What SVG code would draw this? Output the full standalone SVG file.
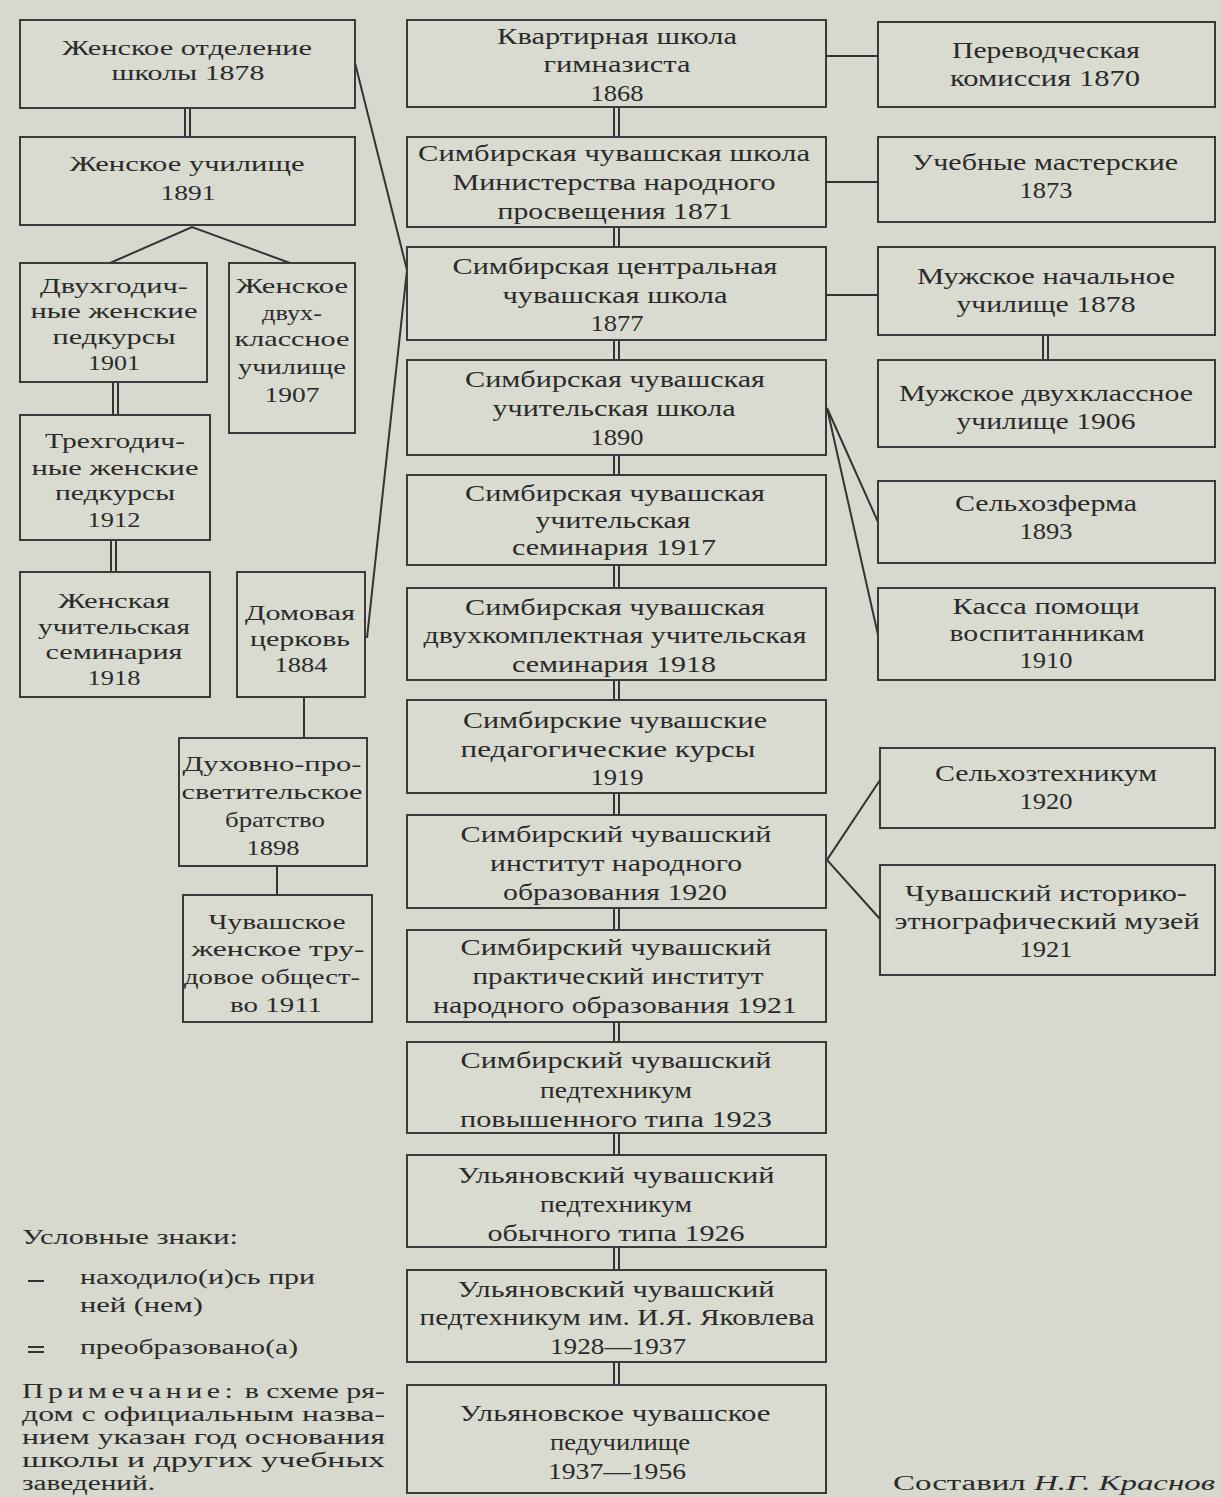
<svg xmlns="http://www.w3.org/2000/svg" width="1222" height="1497" viewBox="0 0 1222 1497">
<style>
.bg{fill:#d7d9cf}
.box{fill:#d9dbd1;stroke:#3a3a3a;stroke-width:2}
.ln{stroke:#333;stroke-width:2;fill:none}
.t{font-family:"Liberation Serif","Times New Roman",serif;font-size:24px;fill:#2a2a2a;text-anchor:middle}
.s{font-family:"Liberation Serif","Times New Roman",serif;font-size:22px;fill:#2a2a2a;text-anchor:middle}
.l{font-family:"Liberation Serif","Times New Roman",serif;font-size:20px;fill:#2a2a2a}
</style>
<rect class="bg" x="0" y="0" width="1222" height="1497"/>
<g id="connectors">
<line class="ln" x1="185" y1="108" x2="185" y2="137"/><line class="ln" x1="190" y1="108" x2="190" y2="137"/>
<polyline class="ln" points="110,263 192,227 290,263"/>
<line class="ln" x1="113" y1="382" x2="113" y2="415"/><line class="ln" x1="118" y1="382" x2="118" y2="415"/>
<line class="ln" x1="111" y1="540" x2="111" y2="572"/><line class="ln" x1="116" y1="540" x2="116" y2="572"/>
<line class="ln" x1="304" y1="697" x2="304" y2="738"/>
<line class="ln" x1="277" y1="866" x2="277" y2="895"/>
<line class="ln" x1="355" y1="63" x2="407" y2="270"/>
<line class="ln" x1="407" y1="270" x2="367" y2="638"/>
<line class="ln" x1="614" y1="107" x2="614" y2="137"/><line class="ln" x1="619" y1="107" x2="619" y2="137"/>
<line class="ln" x1="614" y1="227" x2="614" y2="247"/><line class="ln" x1="619" y1="227" x2="619" y2="247"/>
<line class="ln" x1="614" y1="340" x2="614" y2="360"/><line class="ln" x1="619" y1="340" x2="619" y2="360"/>
<line class="ln" x1="614" y1="455" x2="614" y2="475"/><line class="ln" x1="619" y1="455" x2="619" y2="475"/>
<line class="ln" x1="614" y1="565" x2="614" y2="588"/><line class="ln" x1="619" y1="565" x2="619" y2="588"/>
<line class="ln" x1="614" y1="680" x2="614" y2="700"/><line class="ln" x1="619" y1="680" x2="619" y2="700"/>
<line class="ln" x1="614" y1="793" x2="614" y2="815"/><line class="ln" x1="619" y1="793" x2="619" y2="815"/>
<line class="ln" x1="614" y1="908" x2="614" y2="930"/><line class="ln" x1="619" y1="908" x2="619" y2="930"/>
<line class="ln" x1="614" y1="1022" x2="614" y2="1042"/><line class="ln" x1="619" y1="1022" x2="619" y2="1042"/>
<line class="ln" x1="614" y1="1133" x2="614" y2="1155"/><line class="ln" x1="619" y1="1133" x2="619" y2="1155"/>
<line class="ln" x1="614" y1="1247" x2="614" y2="1270"/><line class="ln" x1="619" y1="1247" x2="619" y2="1270"/>
<line class="ln" x1="614" y1="1362" x2="614" y2="1385"/><line class="ln" x1="619" y1="1362" x2="619" y2="1385"/>
<line class="ln" x1="826" y1="56" x2="878" y2="56"/>
<line class="ln" x1="826" y1="182" x2="878" y2="182"/>
<line class="ln" x1="826" y1="295" x2="878" y2="295"/>
<line class="ln" x1="1043" y1="335" x2="1043" y2="360"/><line class="ln" x1="1048" y1="335" x2="1048" y2="360"/>
<polyline class="ln" points="878,522 827,408 878,635"/>
<polyline class="ln" points="880,780 827,860 880,919"/>
</g>
<g id="n-zhensk-otd"><rect class="box" x="20" y="20" width="335" height="88"/>
<text class="s" x="187" y="55" textLength="250" lengthAdjust="spacingAndGlyphs">Женское отделение</text>
<text class="s" x="188" y="80" textLength="153" lengthAdjust="spacingAndGlyphs">школы 1878</text></g>
<g id="n-zhensk-uch"><rect class="box" x="20" y="137" width="335" height="88"/>
<text class="s" x="187" y="171" textLength="235" lengthAdjust="spacingAndGlyphs">Женское училище</text>
<text class="s" x="188" y="200" textLength="55" lengthAdjust="spacingAndGlyphs">1891</text></g>
<g id="n-dvuhgod"><rect class="box" x="20" y="263" width="187" height="119"/>
<text class="s" x="114" y="293" textLength="148" lengthAdjust="spacingAndGlyphs">Двухгодич-</text>
<text class="s" x="114" y="318" textLength="167" lengthAdjust="spacingAndGlyphs">ные женские</text>
<text class="s" x="114" y="344" textLength="123" lengthAdjust="spacingAndGlyphs">педкурсы</text>
<text class="s" x="114" y="370" textLength="52" lengthAdjust="spacingAndGlyphs">1901</text></g>
<g id="n-zhensk-dvuh"><rect class="box" x="229" y="263" width="126" height="170"/>
<text class="s" x="292" y="293" textLength="112" lengthAdjust="spacingAndGlyphs">Женское</text>
<text class="s" x="292" y="320" textLength="60" lengthAdjust="spacingAndGlyphs">двух-</text>
<text class="s" x="292" y="346" textLength="115" lengthAdjust="spacingAndGlyphs">классное</text>
<text class="s" x="292" y="374" textLength="108" lengthAdjust="spacingAndGlyphs">училище</text>
<text class="s" x="292" y="402" textLength="55" lengthAdjust="spacingAndGlyphs">1907</text></g>
<g id="n-trehgod"><rect class="box" x="20" y="415" width="190" height="125"/>
<text class="s" x="115" y="448" textLength="140" lengthAdjust="spacingAndGlyphs">Трехгодич-</text>
<text class="s" x="115" y="475" textLength="167" lengthAdjust="spacingAndGlyphs">ные женские</text>
<text class="s" x="115" y="500" textLength="120" lengthAdjust="spacingAndGlyphs">педкурсы</text>
<text class="s" x="114" y="527" textLength="53" lengthAdjust="spacingAndGlyphs">1912</text></g>
<g id="n-zhensk-sem"><rect class="box" x="20" y="572" width="190" height="125"/>
<text class="s" x="114" y="608" textLength="112" lengthAdjust="spacingAndGlyphs">Женская</text>
<text class="s" x="114" y="634" textLength="152" lengthAdjust="spacingAndGlyphs">учительская</text>
<text class="s" x="114" y="659" textLength="137" lengthAdjust="spacingAndGlyphs">семинария</text>
<text class="s" x="114" y="685" textLength="53" lengthAdjust="spacingAndGlyphs">1918</text></g>
<g id="n-domovaya"><rect class="box" x="237" y="572" width="128" height="125"/>
<text class="s" x="300" y="620" textLength="110" lengthAdjust="spacingAndGlyphs">Домовая</text>
<text class="s" x="300" y="646" textLength="100" lengthAdjust="spacingAndGlyphs">церковь</text>
<text class="s" x="301" y="672" textLength="53" lengthAdjust="spacingAndGlyphs">1884</text></g>
<g id="n-duhovno"><rect class="box" x="179" y="738" width="188" height="128"/>
<text class="s" x="272" y="771" textLength="179" lengthAdjust="spacingAndGlyphs">Духовно-про-</text>
<text class="s" x="272" y="799" textLength="181" lengthAdjust="spacingAndGlyphs">светительское</text>
<text class="s" x="275" y="827" textLength="100" lengthAdjust="spacingAndGlyphs">братство</text>
<text class="s" x="273" y="855" textLength="53" lengthAdjust="spacingAndGlyphs">1898</text></g>
<g id="n-chuv-trud"><rect class="box" x="183" y="895" width="189" height="127"/>
<text class="s" x="277" y="929" textLength="137" lengthAdjust="spacingAndGlyphs">Чувашское</text>
<text class="s" x="278" y="956" textLength="173" lengthAdjust="spacingAndGlyphs">женское тру-</text>
<text class="s" x="272" y="984" textLength="176" lengthAdjust="spacingAndGlyphs">довое общест-</text>
<text class="s" x="276" y="1012" textLength="92" lengthAdjust="spacingAndGlyphs">во 1911</text></g>
<g id="n-1868"><rect class="box" x="407" y="20" width="419" height="87"/>
<text class="t" x="617" y="44" textLength="240" lengthAdjust="spacingAndGlyphs">Квартирная школа</text>
<text class="t" x="617" y="72" textLength="147" lengthAdjust="spacingAndGlyphs">гимназиста</text>
<text class="t" x="617" y="101" textLength="53" lengthAdjust="spacingAndGlyphs">1868</text></g>
<g id="n-1871"><rect class="box" x="407" y="137" width="419" height="90"/>
<text class="t" x="614" y="161" textLength="392" lengthAdjust="spacingAndGlyphs">Симбирская чувашская школа</text>
<text class="t" x="614" y="190" textLength="323" lengthAdjust="spacingAndGlyphs">Министерства народного</text>
<text class="t" x="615" y="219" textLength="235" lengthAdjust="spacingAndGlyphs">просвещения 1871</text></g>
<g id="n-1877"><rect class="box" x="407" y="247" width="419" height="93"/>
<text class="t" x="615" y="274" textLength="325" lengthAdjust="spacingAndGlyphs">Симбирская центральная</text>
<text class="t" x="615" y="303" textLength="225" lengthAdjust="spacingAndGlyphs">чувашская школа</text>
<text class="t" x="617" y="331" textLength="53" lengthAdjust="spacingAndGlyphs">1877</text></g>
<g id="n-1890"><rect class="box" x="407" y="360" width="419" height="95"/>
<text class="t" x="615" y="387" textLength="300" lengthAdjust="spacingAndGlyphs">Симбирская чувашская</text>
<text class="t" x="614" y="416" textLength="243" lengthAdjust="spacingAndGlyphs">учительская школа</text>
<text class="t" x="617" y="445" textLength="53" lengthAdjust="spacingAndGlyphs">1890</text></g>
<g id="n-1917"><rect class="box" x="407" y="475" width="419" height="90"/>
<text class="t" x="615" y="501" textLength="300" lengthAdjust="spacingAndGlyphs">Симбирская чувашская</text>
<text class="t" x="613" y="528" textLength="155" lengthAdjust="spacingAndGlyphs">учительская</text>
<text class="t" x="614" y="555" textLength="204" lengthAdjust="spacingAndGlyphs">семинария 1917</text></g>
<g id="n-1918"><rect class="box" x="407" y="588" width="419" height="92"/>
<text class="t" x="615" y="615" textLength="300" lengthAdjust="spacingAndGlyphs">Симбирская чувашская</text>
<text class="t" x="615" y="643" textLength="383" lengthAdjust="spacingAndGlyphs">двухкомплектная учительская</text>
<text class="t" x="614" y="672" textLength="204" lengthAdjust="spacingAndGlyphs">семинария 1918</text></g>
<g id="n-1919"><rect class="box" x="407" y="700" width="419" height="93"/>
<text class="t" x="615" y="728" textLength="304" lengthAdjust="spacingAndGlyphs">Симбирские чувашские</text>
<text class="t" x="608" y="757" textLength="295" lengthAdjust="spacingAndGlyphs">педагогические курсы</text>
<text class="t" x="617" y="785" textLength="53" lengthAdjust="spacingAndGlyphs">1919</text></g>
<g id="n-1920"><rect class="box" x="407" y="815" width="419" height="93"/>
<text class="t" x="616" y="842" textLength="311" lengthAdjust="spacingAndGlyphs">Симбирский чувашский</text>
<text class="t" x="616" y="871" textLength="252" lengthAdjust="spacingAndGlyphs">институт народного</text>
<text class="t" x="615" y="900" textLength="224" lengthAdjust="spacingAndGlyphs">образования 1920</text></g>
<g id="n-1921"><rect class="box" x="407" y="930" width="419" height="92"/>
<text class="t" x="616" y="955" textLength="311" lengthAdjust="spacingAndGlyphs">Симбирский чувашский</text>
<text class="t" x="618" y="984" textLength="291" lengthAdjust="spacingAndGlyphs">практический институт</text>
<text class="t" x="615" y="1013" textLength="364" lengthAdjust="spacingAndGlyphs">народного образования 1921</text></g>
<g id="n-1923"><rect class="box" x="407" y="1042" width="419" height="91"/>
<text class="t" x="616" y="1068" textLength="311" lengthAdjust="spacingAndGlyphs">Симбирский чувашский</text>
<text class="t" x="616" y="1098" textLength="152" lengthAdjust="spacingAndGlyphs">педтехникум</text>
<text class="t" x="616" y="1127" textLength="312" lengthAdjust="spacingAndGlyphs">повышенного типа 1923</text></g>
<g id="n-1926"><rect class="box" x="407" y="1155" width="419" height="92"/>
<text class="t" x="616" y="1183" textLength="317" lengthAdjust="spacingAndGlyphs">Ульяновский чувашский</text>
<text class="t" x="616" y="1212" textLength="152" lengthAdjust="spacingAndGlyphs">педтехникум</text>
<text class="t" x="616" y="1241" textLength="257" lengthAdjust="spacingAndGlyphs">обычного типа 1926</text></g>
<g id="n-1928"><rect class="box" x="407" y="1270" width="419" height="92"/>
<text class="t" x="616" y="1297" textLength="317" lengthAdjust="spacingAndGlyphs">Ульяновский чувашский</text>
<text class="t" x="617" y="1325" textLength="395" lengthAdjust="spacingAndGlyphs">педтехникум им. И.Я. Яковлева</text>
<text class="t" x="618" y="1354" textLength="136" lengthAdjust="spacingAndGlyphs">1928—1937</text></g>
<g id="n-1937"><rect class="box" x="407" y="1385" width="419" height="108"/>
<text class="t" x="615" y="1421" textLength="311" lengthAdjust="spacingAndGlyphs">Ульяновское чувашское</text>
<text class="t" x="620" y="1450" textLength="140" lengthAdjust="spacingAndGlyphs">педучилище</text>
<text class="t" x="617" y="1479" textLength="138" lengthAdjust="spacingAndGlyphs">1937—1956</text></g>
<g id="n-perevod"><rect class="box" x="878" y="22" width="337" height="85"/>
<text class="t" x="1046" y="58" textLength="188" lengthAdjust="spacingAndGlyphs">Переводческая</text>
<text class="t" x="1045" y="86" textLength="190" lengthAdjust="spacingAndGlyphs">комиссия 1870</text></g>
<g id="n-masterskie"><rect class="box" x="878" y="137" width="337" height="85"/>
<text class="t" x="1045" y="170" textLength="266" lengthAdjust="spacingAndGlyphs">Учебные мастерские</text>
<text class="t" x="1046" y="198" textLength="53" lengthAdjust="spacingAndGlyphs">1873</text></g>
<g id="n-muzh-nach"><rect class="box" x="878" y="247" width="337" height="88"/>
<text class="t" x="1046" y="284" textLength="258" lengthAdjust="spacingAndGlyphs">Мужское начальное</text>
<text class="t" x="1046" y="312" textLength="179" lengthAdjust="spacingAndGlyphs">училище 1878</text></g>
<g id="n-muzh-dvuh"><rect class="box" x="878" y="360" width="337" height="87"/>
<text class="t" x="1046" y="401" textLength="294" lengthAdjust="spacingAndGlyphs">Мужское двухклассное</text>
<text class="t" x="1046" y="429" textLength="179" lengthAdjust="spacingAndGlyphs">училище 1906</text></g>
<g id="n-selhozferma"><rect class="box" x="878" y="481" width="337" height="82"/>
<text class="t" x="1046" y="511" textLength="182" lengthAdjust="spacingAndGlyphs">Сельхозферма</text>
<text class="t" x="1046" y="539" textLength="53" lengthAdjust="spacingAndGlyphs">1893</text></g>
<g id="n-kassa"><rect class="box" x="878" y="588" width="337" height="92"/>
<text class="t" x="1046" y="614" textLength="187" lengthAdjust="spacingAndGlyphs">Касса помощи</text>
<text class="t" x="1047" y="641" textLength="195" lengthAdjust="spacingAndGlyphs">воспитанникам</text>
<text class="t" x="1046" y="668" textLength="53" lengthAdjust="spacingAndGlyphs">1910</text></g>
<g id="n-selhoztehn"><rect class="box" x="880" y="748" width="335" height="80"/>
<text class="t" x="1046" y="781" textLength="222" lengthAdjust="spacingAndGlyphs">Сельхозтехникум</text>
<text class="t" x="1046" y="809" textLength="53" lengthAdjust="spacingAndGlyphs">1920</text></g>
<g id="n-muzei"><rect class="box" x="880" y="865" width="335" height="110"/>
<text class="t" x="1046" y="901" textLength="282" lengthAdjust="spacingAndGlyphs">Чувашский историко-</text>
<text class="t" x="1047" y="929" textLength="305" lengthAdjust="spacingAndGlyphs">этнографический музей</text>
<text class="t" x="1046" y="957" textLength="53" lengthAdjust="spacingAndGlyphs">1921</text></g>
<g id="legend">
<text class="l" x="22" y="1244" textLength="216" lengthAdjust="spacingAndGlyphs">Условные знаки:</text>
<line class="ln" x1="28" y1="1281" x2="44" y2="1281"/>
<text class="l" x="80" y="1284" textLength="235" lengthAdjust="spacingAndGlyphs">находило(и)сь при</text>
<text class="l" x="80" y="1312" textLength="123" lengthAdjust="spacingAndGlyphs">ней (нем)</text>
<line class="ln" x1="28" y1="1347" x2="44" y2="1347"/><line class="ln" x1="28" y1="1352" x2="44" y2="1352"/>
<text class="l" x="80" y="1354" textLength="218" lengthAdjust="spacingAndGlyphs">преобразовано(а)</text>
<text class="l" x="22" y="1398" textLength="363" lengthAdjust="spacingAndGlyphs"><tspan letter-spacing="3">Примечание:</tspan> в схеме ря-</text>
<text class="l" x="22" y="1421" textLength="363" lengthAdjust="spacingAndGlyphs">дом с официальным назва-</text>
<text class="l" x="22" y="1444" textLength="363" lengthAdjust="spacingAndGlyphs">нием указан год основания</text>
<text class="l" x="22" y="1467" textLength="363" lengthAdjust="spacingAndGlyphs">школы и других учебных</text>
<text class="l" x="22" y="1490" textLength="133" lengthAdjust="spacingAndGlyphs">заведений.</text>
<text class="l" x="893" y="1490" textLength="322" lengthAdjust="spacingAndGlyphs">Составил <tspan font-style="italic">Н.Г. Краснов</tspan></text>
</g>
</svg>
